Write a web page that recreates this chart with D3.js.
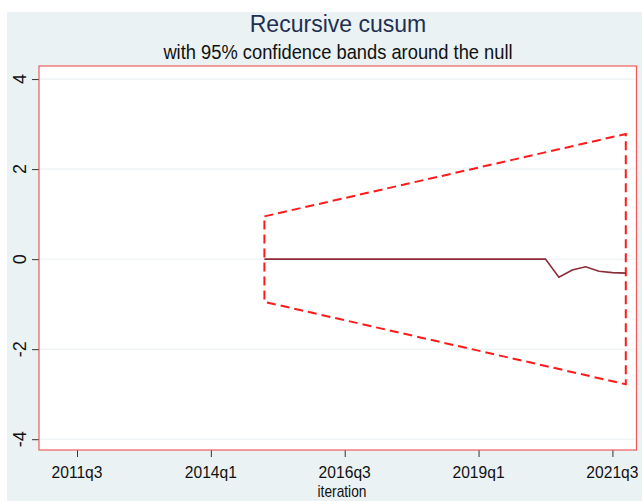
<!DOCTYPE html>
<html>
<head>
<meta charset="utf-8">
<script src="https://cdn.jsdelivr.net/npm/d3@7"></script>
<style>
    body { margin: 0; background: #ffffff; }
    svg { display: block; font-family: "Liberation Sans", Arial, sans-serif; }
</style>
</head>
<body>
<div id="visual"></div>
<script>
// quarters of the recursive cusum, and its values
var periods = ["2015q1", "2015q2", "2015q3", "2015q4", "2016q1", "2016q2", "2016q3", "2016q4",
    "2017q1", "2017q2", "2017q3", "2017q4", "2018q1", "2018q2", "2018q3", "2018q4",
    "2019q1", "2019q2", "2019q3", "2019q4", "2020q1", "2020q2", "2020q3", "2020q4",
    "2021q1", "2021q2", "2021q3", "2021q4"];
var cusum = [0, 0, 0, 0, 0, 0, 0, 0,
    0, 0, 0, 0, 0, 0, 0, 0,
    0, 0, 0, 0, 0, 0, -0.40, -0.24,
    -0.17, -0.27, -0.30, -0.31];

// 95% bands at first and last iteration
var bandPeriods = ["2015q1", "2021q4"];
var bandUpper = [0.95, 2.78];
var bandLower = [-0.95, -2.78];

var xTicks = ["2011q3", "2014q1", "2016q3", "2019q1", "2021q3"];
var yTicks = [-4, -2, 0, 2, 4];

// quarters counted from 2011q3
function qIndex(s) {
    var year = +s.slice(0, 4);
    var q = +s.slice(5);
    return (year - 2011) * 4 + (q - 3);
}

function chart() {
    var w = 642, h = 501;
    var svg = d3.select("#visual").append("svg").attr("width", w).attr("height", h);

    // outer background
    svg.append("rect")
        .attr("x", 7).attr("y", 12)
        .attr("width", w - 7).attr("height", h - 12)
        .attr("fill", "#eaf2f3");

    var xScale = d3.scaleLinear()
        .domain([-2.84, 41.8])
        .range([39, 636.5]);

    var yScale = d3.scaleLinear()
        .domain([-4.24, 4.29])
        .range([450, 66]);

    // plot region
    svg.append("rect")
        .attr("x", xScale.range()[0]).attr("y", yScale.range()[1])
        .attr("width", xScale.range()[1] - xScale.range()[0])
        .attr("height", yScale.range()[0] - yScale.range()[1])
        .attr("fill", "#ffffff");

    // gridlines
    svg.selectAll(".grid")
        .data(yTicks)
        .enter()
        .append("line")
        .attr("x1", xScale.range()[0]).attr("x2", xScale.range()[1])
        .attr("y1", function (d) { return yScale(d); })
        .attr("y2", function (d) { return yScale(d); })
        .attr("stroke", "#e8eff2")
        .attr("stroke-width", 1);

    // y axis
    var yAxis = svg.append("g")
        .attr("transform", "translate(" + xScale.range()[0] + ",0)")
        .call(d3.axisLeft(yScale).tickValues(yTicks).tickSize(7).tickFormat(""));
    yAxis.select(".domain").remove();
    yAxis.selectAll(".tick line").attr("stroke", "#333").attr("stroke-width", 1);

    svg.selectAll(".ylab")
        .data(yTicks)
        .enter()
        .append("text")
        .attr("transform", function (d) { return "translate(26," + yScale(d) + ") rotate(-90)"; })
        .attr("text-anchor", "middle")
        .attr("font-size", "18px")
        .attr("fill", "#111")
        .text(function (d) { return d; });

    // x axis
    var xAxis = svg.append("g")
        .attr("transform", "translate(0," + yScale.range()[0] + ")")
        .call(d3.axisBottom(xScale).tickValues(xTicks.map(qIndex)).tickSize(7).tickFormat(""));
    xAxis.select(".domain").remove();
    xAxis.selectAll(".tick line").attr("stroke", "#333").attr("stroke-width", 1);

    svg.selectAll(".xlab")
        .data(xTicks)
        .enter()
        .append("text")
        .attr("transform", function (d) { return "translate(" + xScale(qIndex(d)) + ",478) scale(0.92,1)"; })
        .attr("text-anchor", "middle")
        .attr("font-size", "17px")
        .attr("fill", "#111")
        .text(function (d) { return d; });

    svg.append("text")
        .attr("transform", "translate(342,497) scale(0.86,1)")
        .attr("text-anchor", "middle")
        .attr("font-size", "16px")
        .attr("fill", "#111")
        .text("iteration");

    // confidence bands
    var bandPts = [
        [bandPeriods[0], bandUpper[0]],
        [bandPeriods[1], bandUpper[1]],
        [bandPeriods[1], bandLower[1]],
        [bandPeriods[0], bandLower[0]],
        [bandPeriods[0], bandUpper[0]]
    ];
    var line = d3.line()
        .x(function (d) { return xScale(qIndex(d[0])); })
        .y(function (d) { return yScale(d[1]); });

    svg.append("path")
        .attr("d", line(bandPts))
        .attr("fill", "none")
        .attr("stroke", "#ff1a1a")
        .attr("stroke-width", 2)
        .attr("stroke-dasharray", "9,5");

    // recursive cusum
    svg.append("path")
        .attr("d", line(periods.map(function (p, i) { return [p, cusum[i]]; })))
        .attr("fill", "none")
        .attr("stroke", "#8b2b35")
        .attr("stroke-width", 1.6);

    // plot border
    svg.append("rect")
        .attr("x", xScale.range()[0]).attr("y", yScale.range()[1])
        .attr("width", xScale.range()[1] - xScale.range()[0])
        .attr("height", yScale.range()[0] - yScale.range()[1])
        .attr("fill", "none")
        .attr("stroke", "#ee5a5a")
        .attr("stroke-width", 1.2);

    // titles
    svg.append("text")
        .attr("transform", "translate(338,32) scale(0.94,1)")
        .attr("text-anchor", "middle")
        .attr("font-size", "24.5px")
        .attr("fill", "#1e2f52")
        .text("Recursive cusum");

    svg.append("text")
        .attr("transform", "translate(338,59) scale(0.94,1)")
        .attr("text-anchor", "middle")
        .attr("font-size", "19.5px")
        .attr("fill", "#111")
        .text("with 95% confidence bands around the null");
}

chart();
</script>
</body>
</html>
